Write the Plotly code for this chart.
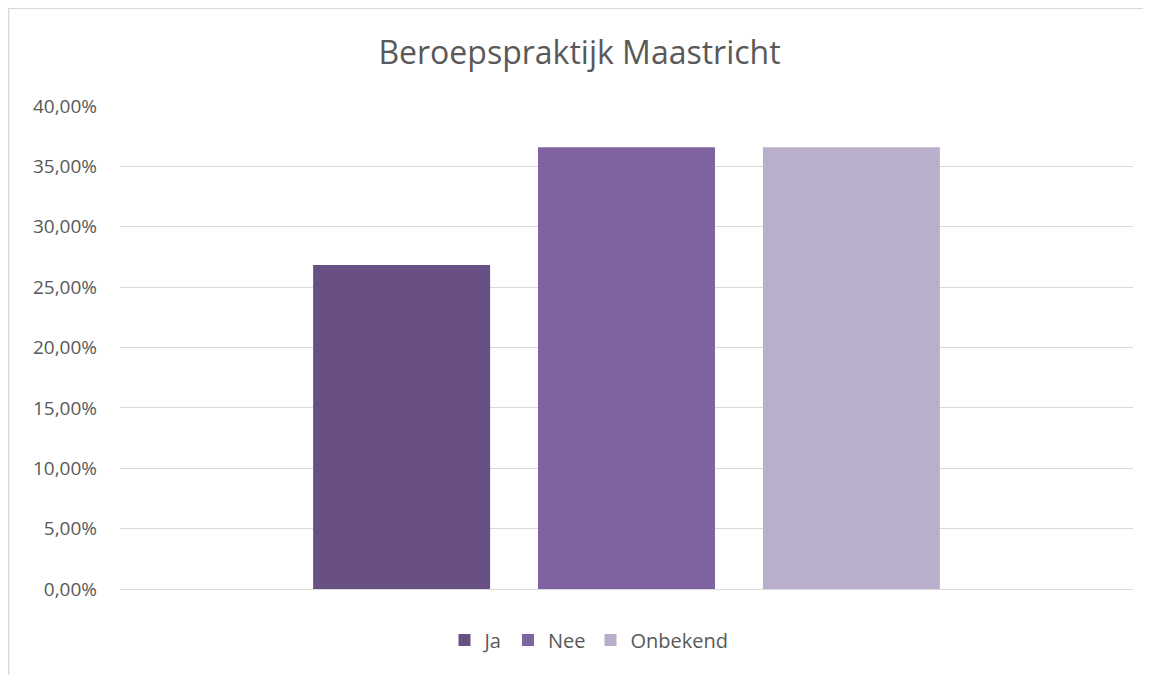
import plotly.graph_objects as go

category = ["Beroepspraktijk Maastricht"]
series_names = ["Ja", "Nee", "Onbekend"]
series_values = [0.2683, 0.3659, 0.3659]
series_colors = ["#684F84", "#8064A2", "#B9AFCA"]
y_ticks = [0, 0.05, 0.10, 0.15, 0.20, 0.25, 0.30, 0.35, 0.40]

# the page body has an 8px default margin, so the figure is 8px smaller
OFF = 8
W, H = 1151 - OFF, 675 - OFF
L, R, T, B = 120 - OFF, 18, 106 - OFF, 86
pw, ph = W - L - R, H - T - B

fig = go.Figure()
for name, val, col in zip(series_names, series_values, series_colors):
    fig.add_trace(go.Bar(x=category, y=[val], name=name, marker=dict(color=col, line=dict(width=0))))

def px(x):
    return (x - L) / pw

def py(y):
    return (H - B - y) / ph

border = dict(color="#D9D9D9", width=1.3)
fig.add_shape(type="line", xref="paper", yref="paper", x0=px(0.7), x1=px(0.7), y0=py(0.3), y1=py(H), line=border)
fig.add_shape(type="line", xref="paper", yref="paper", x0=px(0.7), x1=px(W), y0=py(0.3), y1=py(0.3), line=border)

fig.update_layout(
    width=W, height=H,
    margin=dict(l=L, r=R, t=T, b=B),
    paper_bgcolor="white", plot_bgcolor="white",
    separators=",.",
    font=dict(family="Open Sans, sans-serif", color="#595959", size=18),
    title=dict(text="Beroepspraktijk Maastricht", x=0.5, xanchor="center", y=1 - 45 / H, yanchor="middle",
               font=dict(size=32, color="#595959")),
    barmode="group", bargap=0.334, bargroupgap=0.213,
    showlegend=True,
    legend=dict(orientation="h", x=px(589 - OFF), xanchor="center", y=-51 / ph, yanchor="middle",
                font=dict(size=20, color="#595959"), itemwidth=30, traceorder="normal"),
    xaxis=dict(showticklabels=False, showgrid=False, zeroline=False, showline=False, range=[-0.5, 0.5]),
    yaxis=dict(range=[0, 0.40], tickvals=y_ticks, tickformat=".2%", showgrid=True, gridcolor="#D9D9D9",
               gridwidth=1, zeroline=True, zerolinecolor="#D9D9D9", zerolinewidth=1, showline=False,
               ticklabelstandoff=22, tickfont=dict(size=19, color="#595959")),
)

fig.write_html("out.html")
